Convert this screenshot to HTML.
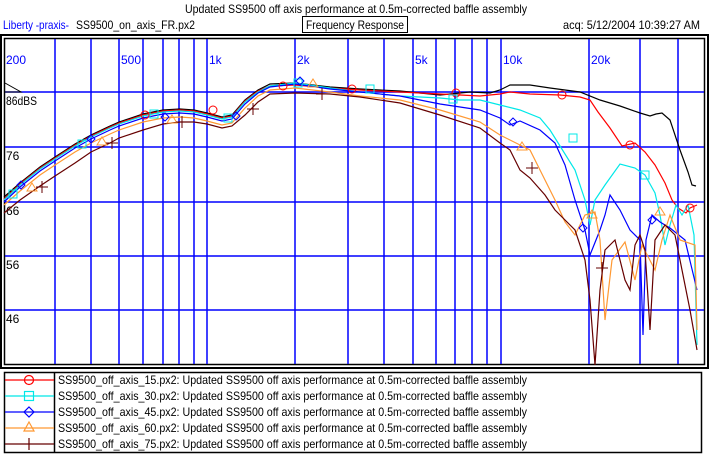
<!DOCTYPE html>
<html><head><style>
body{margin:0;background:#fff;width:709px;height:457px;overflow:hidden;font-family:"Liberation Sans",sans-serif;}
svg text{font-family:"Liberation Sans",sans-serif;font-size:12px;}
</style></head><body>
<svg width="709" height="457" viewBox="0 0 709 457" xmlns="http://www.w3.org/2000/svg">
<rect x="0" y="0" width="709" height="457" fill="#fff"/>
<text x="185" y="13" textLength="342" lengthAdjust="spacingAndGlyphs">Updated SS9500 off axis performance at 0.5m-corrected baffle assembly</text>
<text x="3" y="29" fill="#0000ff" textLength="66" lengthAdjust="spacingAndGlyphs">Liberty -praxis-</text>
<text x="76" y="29" textLength="119" lengthAdjust="spacingAndGlyphs">SS9500_on_axis_FR.px2</text>
<rect x="302.5" y="16.5" width="105" height="16" fill="none" stroke="#000"/>
<text x="306" y="29" textLength="98" lengthAdjust="spacingAndGlyphs">Frequency Response</text>
<text x="563" y="29" textLength="137" lengthAdjust="spacingAndGlyphs">acq: 5/12/2004 10:39:27 AM</text>
<rect x="1" y="35" width="707" height="333" fill="none" stroke="#000" stroke-width="2"/>
<rect x="4.5" y="38.5" width="700" height="326" fill="none" stroke="#000" stroke-width="1.5"/>
<g stroke="#0000ff" stroke-width="1.5">
<line x1="55" y1="39" x2="55" y2="364"/><line x1="91" y1="39" x2="91" y2="364"/><line x1="119" y1="39" x2="119" y2="364"/><line x1="143" y1="39" x2="143" y2="364"/><line x1="163" y1="39" x2="163" y2="364"/><line x1="179" y1="39" x2="179" y2="364"/><line x1="194" y1="39" x2="194" y2="364"/><line x1="207" y1="39" x2="207" y2="364"/><line x1="295" y1="39" x2="295" y2="364"/><line x1="348" y1="39" x2="348" y2="364"/><line x1="384" y1="39" x2="384" y2="364"/><line x1="413" y1="39" x2="413" y2="364"/><line x1="436" y1="39" x2="436" y2="364"/><line x1="455" y1="39" x2="455" y2="364"/><line x1="472" y1="39" x2="472" y2="364"/><line x1="487" y1="39" x2="487" y2="364"/><line x1="501" y1="39" x2="501" y2="364"/><line x1="589" y1="39" x2="589" y2="364"/><line x1="640" y1="39" x2="640" y2="364"/><line x1="678" y1="39" x2="678" y2="364"/>
<line x1="5" y1="92" x2="704" y2="92"/><line x1="5" y1="147" x2="704" y2="147"/><line x1="5" y1="202" x2="704" y2="202"/><line x1="5" y1="256" x2="704" y2="256"/><line x1="5" y1="310" x2="704" y2="310"/>
</g>
<g fill="#0000ff"><text x="6" y="64">200</text><text x="121" y="64">500</text><text x="209" y="64">1k</text><text x="297" y="64">2k</text><text x="415" y="64">5k</text><text x="503" y="64">10k</text><text x="591" y="64">20k</text></g>
<g><text x="6" y="105" textLength="31" lengthAdjust="spacingAndGlyphs">86dBS</text><text x="6" y="160">76</text><text x="6" y="215">66</text><text x="6" y="269">56</text><text x="6" y="323">46</text></g>
<polyline points="5,83 21,92 5,92" fill="none" stroke="#000"/>
<g fill="none" stroke-width="1.2">
<polyline stroke="#000" points="4,197 20,183 40,167 55,157 75,144 91,135 110,126 119,122 143,114 163,110 180,109 194,110 207,113 222,117 232,115 245,100 258,90 270,84 295,83 330,87 360,89 400,91 440,95 470,92 490,93 500,90 510,85 530,85 550,88 580,92 600,100 620,106 640,113 650,116 656,114 662,113 670,120 680,150 688,172 692,185 696,186"/>
<polyline stroke="#ff0000" points="4,199 20,184 40,168 55,158 75,145 91,136 110,127 119,123 143,115 163,111 180,110 194,111 207,114 222,118 232,116 245,101 258,91 270,86 295,85 330,88 360,90 400,92 440,94 480,96 500,94 510,92 530,94 560,95 580,97 590,100 598,112 610,128 622,146 635,143 645,152 655,165 665,183 672,200 678,208 686,213 690,208 697,205"/>
<polyline stroke="#00e8e8" points="4,200 20,185 40,169 55,159 75,146 91,137 110,128 119,124 143,116 163,112 180,111 194,112 207,115 222,119 232,117 245,102 258,92 270,86 295,83 330,88 360,92 400,96 440,98 460,100 480,100 500,105 520,110 540,118 550,130 560,146 575,170 585,200 590,225 595,200 605,185 620,164 635,168 645,175 655,193 660,215 665,245 670,225 676,205 682,215 688,205 694,235 697,345"/>
<polyline stroke="#0000ff" points="4,202 20,187 40,171 55,161 75,148 91,139 110,130 119,126 143,118 163,114 180,113 194,114 207,117 222,121 232,119 245,104 258,93 270,87 295,84 330,89 360,92 400,96 440,104 480,110 500,118 510,125 520,121 540,130 555,143 565,165 575,200 585,230 590,255 600,230 605,215 610,195 620,210 630,230 640,240 643,335 646,240 652,215 660,222 670,228 685,240 697,290"/>
<polyline stroke="#ff9933" points="4,205 20,191 40,175 55,165 75,152 91,143 110,134 119,130 143,122 163,118 180,117 194,118 207,121 222,125 232,123 245,108 258,96 270,90 295,88 330,92 360,96 400,100 440,110 480,122 500,135 520,145 530,150 540,170 555,200 565,222 575,235 585,215 595,212 600,240 605,320 612,260 625,242 635,280 642,245 655,270 662,240 670,215 680,240 695,245 697,330"/>
<polyline stroke="#660000" points="4,213 20,200 40,186 55,176 75,163 91,152 110,143 119,138 143,130 163,124 180,122 194,122 207,124 222,128 232,126 245,115 258,102 270,94 295,93 330,94 360,97 400,103 440,115 480,128 500,143 510,150 520,170 530,178 545,195 555,210 565,220 575,230 585,260 590,300 595,365 600,290 605,250 615,240 625,280 630,290 635,245 640,235 645,250 650,330 655,240 665,225 675,235 690,310 697,350"/>
</g>
<g fill="none" stroke="#ff0000"><circle cx="145" cy="115" r="4"/><circle cx="213" cy="110" r="4"/><circle cx="283" cy="86" r="4"/><circle cx="352" cy="89" r="4"/><circle cx="456" cy="93" r="4"/><circle cx="562" cy="95" r="4"/><circle cx="630" cy="145" r="4"/><circle cx="690" cy="208" r="4"/></g>
<g fill="none" stroke="#00e8e8"><rect x="9" y="190" width="8" height="8"/><rect x="78" y="140" width="8" height="8"/><rect x="150" y="110" width="8" height="8"/><rect x="224" y="114" width="8" height="8"/><rect x="294" y="79" width="8" height="8"/><rect x="366" y="85" width="8" height="8"/><rect x="449" y="95" width="8" height="8"/><rect x="569" y="134" width="8" height="8"/><rect x="641" y="171" width="8" height="8"/></g>
<g fill="none" stroke="#0000ff"><path d="M21 181l4 4-4 4-4-4z"/><path d="M91 135l4 4-4 4-4-4z"/><path d="M165 113l4 4-4 4-4-4z"/><path d="M236 112l4 4-4 4-4-4z"/><path d="M300 77l4 4-4 4-4-4z"/><path d="M513 118l4 4-4 4-4-4z"/><path d="M583 224l4 4-4 4-4-4z"/><path d="M652 216l4 4-4 4-4-4z"/></g>
<g fill="none" stroke="#ff9933"><path d="M32 183l5 8h-10z"/><path d="M102 137l5 8h-10z"/><path d="M172 115l5 8h-10z"/><path d="M313 79l5 8h-10z"/><path d="M522 142l5 8h-10z"/><path d="M592 210l5 8h-10z"/><path d="M660 207l5 8h-10z"/></g>
<g stroke="#660000"><path d="M42 181v12M36 187h12"/><path d="M112 137v12M106 143h12"/><path d="M182 116v12M176 122h12"/><path d="M253 103v12M247 109h12"/><path d="M322 88v12M316 94h12"/><path d="M532 162v12M526 168h12"/><path d="M602 262v12M596 268h12"/></g>
<rect x="4.5" y="372.5" width="697" height="80" fill="none" stroke="#000" stroke-width="1.5"/>
<line x1="54.5" y1="373" x2="54.5" y2="452" stroke="#000" stroke-width="1.5"/>
<g stroke-width="1.2" fill="none">
<line x1="5" y1="380" x2="54" y2="380" stroke="#ff0000"/><circle cx="29" cy="380" r="4.5" stroke="#ff0000"/>
<line x1="5" y1="396" x2="54" y2="396" stroke="#00e8e8"/><rect x="24.5" y="391.5" width="9" height="9" stroke="#00e8e8"/>
<line x1="5" y1="412" x2="54" y2="412" stroke="#0000ff"/><path d="M29 407l5 5-5 5-5-5z" stroke="#0000ff"/>
<line x1="5" y1="428" x2="54" y2="428" stroke="#ff9933"/><path d="M29 422l5 9h-10z" stroke="#ff9933"/>
<line x1="5" y1="444" x2="54" y2="444" stroke="#660000"/><line x1="29" y1="438" x2="29" y2="450" stroke="#660000"/>
</g>
<g><text x="58" y="384" textLength="469" lengthAdjust="spacingAndGlyphs">SS9500_off_axis_15.px2:  Updated SS9500 off axis performance at 0.5m-corrected baffle assembly</text>
<text x="58" y="400" textLength="469" lengthAdjust="spacingAndGlyphs">SS9500_off_axis_30.px2:  Updated SS9500 off axis performance at 0.5m-corrected baffle assembly</text>
<text x="58" y="416" textLength="469" lengthAdjust="spacingAndGlyphs">SS9500_off_axis_45.px2:  Updated SS9500 off axis performance at 0.5m-corrected baffle assembly</text>
<text x="58" y="432" textLength="469" lengthAdjust="spacingAndGlyphs">SS9500_off_axis_60.px2:  Updated SS9500 off axis performance at 0.5m-corrected baffle assembly</text>
<text x="58" y="448" textLength="469" lengthAdjust="spacingAndGlyphs">SS9500_off_axis_75.px2:  Updated SS9500 off axis performance at 0.5m-corrected baffle assembly</text></g>
</svg>
</body></html>
